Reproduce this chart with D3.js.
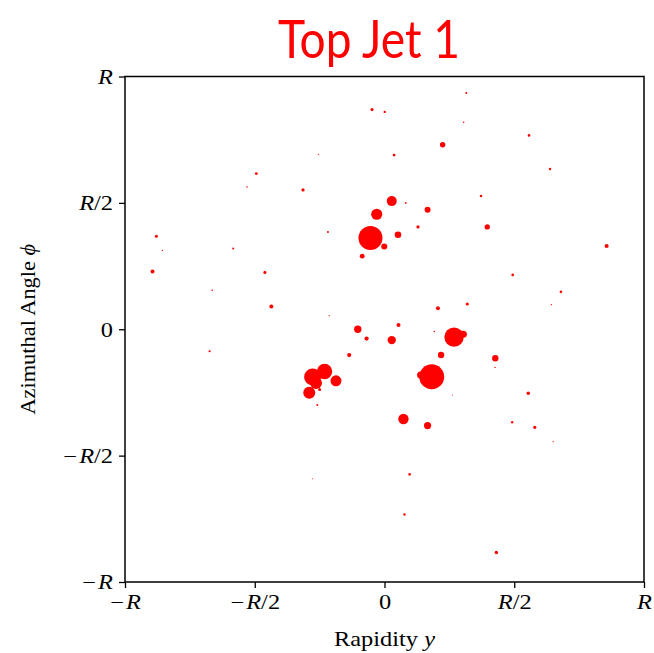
<!DOCTYPE html>
<html lang="en">
<head>
<meta charset="UTF-8">
<title>Top Jet 1</title>
<script src="https://d3js.org/d3.v7.min.js"></script>
<style>
  body { margin: 0; background: #fff; }
  text { fill: #000; }
</style>
</head>
<body>
<svg width="654" height="653"></svg>
<script>
// constituent rapidity (in units of R)
const eta = [-0.048, 0.001, 0.315, 0.305, 0.557, 0.224, 0.037, 0.638, -0.494, -0.530,
  -0.314, 0.372, 0.028, 0.082, 0.166, -0.030, -0.255, 0.396, 0.129, -0.879,
  -0.218, -0.054, 0.052, -0.001, -0.086, -0.856, -0.583, 0.856, -0.894, -0.461,
  0.494, 0.680, -0.664, -0.436, 0.319, 0.206, 0.643, -0.213, 0.054, -0.103,
  -0.069, 0.028, 0.192, 0.268, 0.304, 0.218, 0.427, 0.426, -0.136, -0.674,
  0.182, 0.139, 0.262, 0.554, -0.277, -0.231, -0.264, -0.187, -0.290, -0.250,
  -0.259, 0.073, 0.166, 0.492, 0.579, 0.650, 0.097, 0.077, -0.278, 0.431]
// azimuthal angle (in units of R)
const phi = [0.869, 0.860, 0.935, 0.819, 0.767, 0.730, 0.689, 0.634, 0.616, 0.563,
  0.551, 0.527, 0.507, 0.500, 0.473, 0.455, 0.692, 0.405, 0.405, 0.368,
  0.385, 0.361, 0.374, 0.327, 0.289, 0.312, 0.319, 0.329, 0.228, 0.225,
  0.215, 0.148, 0.154, 0.090, 0.100, 0.083, 0.097, 0.054, 0.017, 0.000,
  -0.037, -0.043, -0.009, -0.031, -0.020, -0.102, -0.115, -0.151, -0.102, -0.087,
  -0.188, -0.181, -0.260, -0.253, -0.189, -0.167, -0.213, -0.204, -0.251, -0.238,
  -0.300, -0.355, -0.381, -0.368, -0.388, -0.445, -0.574, -0.733, -0.591, -0.883]
// transverse momentum (arbitrary units, marker area ~ pT)
const pt = [2.3, 1.4, 1.0, 0.6, 1.7, 7.3, 2.0, 1.4, 2.0, 0.6,
  2.6, 1.7, 25, 0.8, 9.0, 31, 0.4, 6.8, 2.6, 2.3,
  1.0, 144, 10.9, 9.0, 5.8, 0.4, 1.0, 4.0, 4.0, 2.3,
  1.7, 1.7, 0.6, 4.0, 2.3, 4.0, 0.4, 0.4, 4.0, 13.7,
  4.4, 17.6, 0.6, 94, 12.3, 10.2, 10.2, 0.5, 4.4, 1.2,
  156, 12.3, 0.25, 2.9, 72, 59, 36, 30, 36, 2.3,
  1.0, 27, 13, 1.4, 2.6, 0.4, 1.7, 1.4, 0.25, 2.9]

const xTicks = [-1, -0.5, 0, 0.5, 1]
const yTicks = [-1, -0.5, 0, 0.5, 1]
const tickLabels = {'-1': ['−', 'R', ''], '-0.5': ['−', 'R', '/2'], '0': ['', '', '0'], '0.5': ['', 'R', '/2'], '1': ['', 'R', '']}

const svg = d3.select('svg')
const margin = {top: 76.5, right: 10, bottom: 71, left: 125}
const width = 654 - margin.left - margin.right
const height = 653 - margin.top - margin.bottom
const serif = '"Liberation Serif", "DejaVu Serif", serif'
const stretch = 1.22   // computer-modern-ish width

const x = d3.scaleLinear().domain([-1, 1]).range([0, width])
const y = d3.scaleLinear().domain([-1, 1]).range([height, 0])
const r = d3.scaleSqrt().domain([0, 156.25]).range([0, 12.5])

const g = svg.append('g').attr('transform', 'translate(' + margin.left + ',' + margin.top + ')')

// title
svg.append('text')
  .attr('x', 369).attr('y', 58)
  .attr('text-anchor', 'middle')
  .attr('font-family', 'Lato, "Open Sans", sans-serif')
  .attr('font-size', 52)
  .attr('textLength', 182)
  .attr('lengthAdjust', 'spacingAndGlyphs')
  .style('fill', '#ff0000')
  .text('Top Jet 1')

// points
const pts = d3.range(eta.length).map(i => ({eta: eta[i], phi: phi[i], pt: pt[i]}))
g.append('g').selectAll('circle')
  .data(pts)
  .enter()
  .append('circle')
  .attr('cx', d => x(d.eta))
  .attr('cy', d => y(d.phi))
  .attr('r', d => r(d.pt))
  .attr('fill', '#ff0000')

function labelText(sel, d) {
  const parts = tickLabels[String(d)]
  sel.text(null)
  sel.append('tspan').text(parts[0])
  if (parts[0]) sel.append('tspan').text('\u200a')
  sel.append('tspan').attr('font-style', 'italic').text(parts[1])
  sel.append('tspan').text(parts[2])
}

// axes
const xAxis = g.append('g')
  .attr('transform', 'translate(0,' + height + ')')
  .call(d3.axisBottom(x).tickValues(xTicks).tickSize(6).tickPadding(6))
const yAxis = g.append('g')
  .call(d3.axisLeft(y).tickValues(yTicks).tickSize(6).tickPadding(6))

for (const ax of [xAxis, yAxis]) {
  ax.select('.domain').remove()
  ax.selectAll('.tick line').attr('stroke', '#000').attr('stroke-width', 1.3)
  ax.selectAll('.tick text')
    .attr('font-family', serif)
    .attr('font-size', 20)
    .attr('transform', 'scale(' + stretch + ',1)')
    .each(function (d) { labelText(d3.select(this), d) })
}
xAxis.selectAll('.tick text').attr('dy', '0.9em').attr('y', 9)
yAxis.selectAll('.tick text').attr('dy', '0.34em').attr('x', -12 / stretch)

// frame
g.append('rect')
  .attr('width', width).attr('height', height)
  .attr('fill', 'none')
  .attr('stroke', '#000')
  .attr('stroke-width', 1.5)

// axis labels
const xl = svg.append('text')
  .attr('transform', 'translate(' + (margin.left + width / 2) + ',646) scale(' + stretch + ',1)')
  .attr('text-anchor', 'middle')
  .attr('font-family', serif)
  .attr('font-size', 20)
xl.append('tspan').text('Rapidity ')
xl.append('tspan').attr('font-style', 'italic').text('y')

const yl = svg.append('text')
  .attr('transform', 'translate(35,' + (margin.top + height / 2) + ') rotate(-90) scale(1.12,1)')
  .attr('text-anchor', 'middle')
  .attr('font-family', serif)
  .attr('font-size', 20)
yl.append('tspan').text('Azimuthal Angle ')
yl.append('tspan').attr('font-style', 'italic').text('\u03d5')
</script>
</body>
</html>
